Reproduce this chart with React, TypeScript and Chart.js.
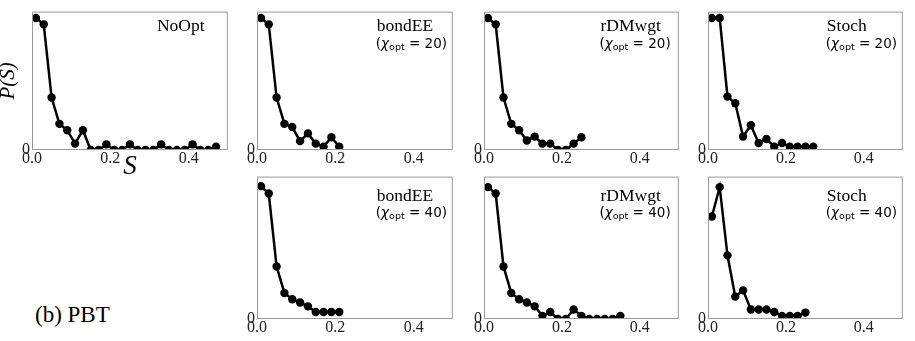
import React, { useEffect, useRef } from 'react';
import { Chart, registerables } from 'chart.js';

Chart.register(...registerables);

// ---- data ----
const S_BINS = [
  0.01, 0.03, 0.05, 0.07, 0.09, 0.11, 0.13, 0.15, 0.17, 0.19, 0.21, 0.23,
  0.25, 0.27, 0.29, 0.31, 0.33, 0.35, 0.37, 0.39, 0.41, 0.43, 0.45, 0.47,
];
const X_TICKS = [0, 0.2, 0.4];
const Y_TICKS = [0];

const NOOPT = [
  0.954, 0.908, 0.379, 0.189, 0.143, 0.046, 0.143, 0, 0, 0.041, 0, 0,
  0.041, 0, 0, 0, 0.041, 0, 0, 0, 0.041, 0, 0, 0.023,
];
const BONDEE_20 = [0.954, 0.908, 0.379, 0.189, 0.166, 0.064, 0.12, 0.046, 0.023, 0.092, 0.023];
const RDMWGT_20 = [0.954, 0.908, 0.379, 0.189, 0.143, 0.069, 0.097, 0.046, 0.046, 0, 0, 0.046, 0.092];
const STOCH_20 = [0.954, 0.954, 0.386, 0.338, 0.097, 0.179, 0.051, 0.08, 0.023, 0.051, 0.023, 0.023, 0.023, 0.023];
const BONDEE_40 = [0.933, 0.881, 0.369, 0.183, 0.139, 0.116, 0.089, 0.049, 0.049, 0.049, 0.049];
const RDMWGT_40 = [
  0.926, 0.881, 0.369, 0.183, 0.139, 0.116, 0.089, 0.022, 0.049, 0, 0, 0.067,
  0.022, 0, 0, 0, 0, 0.022,
];
const STOCH_40 = [0.72, 0.926, 0.447, 0.157, 0.201, 0.067, 0.067, 0.067, 0.049, 0.022, 0.022, 0.022, 0.045];

const SERIF = '"Liberation Serif", "Times New Roman", serif';
const SANS = '"DejaVu Sans", sans-serif';

const panelText = {
  id: 'panelText',
  afterDraw(chart: any, _args: any, opts: any) {
    const { ctx, chartArea: a } = chart;
    const w = a.right - a.left;
    ctx.save();
    ctx.strokeStyle = '#9a9a9a';
    ctx.lineWidth = 1;
    ctx.strokeRect(a.left + 0.5, a.top + 0.5, w - 1, a.bottom - a.top - 1);
    ctx.fillStyle = '#000';
    ctx.textBaseline = 'alphabetic';
    ctx.textAlign = 'left';
    const x = a.left + opts.xFrac * w;
    ctx.font = `17.5px ${SERIF}`;
    ctx.fillText(opts.title, x, a.top + opts.dy1);
    if (opts.chi) {
      let cx = x - 1;
      const by = a.top + opts.dy2;
      const put = (t: string, font: string, dy = 0) => {
        ctx.font = font;
        ctx.fillText(t, cx, by + dy);
        cx += ctx.measureText(t).width;
      };
      put('(', `13.5px ${SANS}`);
      put('χ', `italic 13.5px ${SANS}`);
      put('opt', `9.5px ${SANS}`, 2.5);
      put(' = ' + opts.chi + ')', `13.5px ${SANS}`);
    }
    ctx.restore();
  },
};

type PanelProps = {
  values: number[];
  title: string;
  chi?: string;
  plotLeft: number;
  plotTop: number;
  plotW: number;
  plotH: number;
  yW: number;
  xH: number;
  padTop: number;
  padRight: number;
  xFrac: number;
  dy1: number;
  dy2: number;
  axisTitles?: boolean;
};

function Panel(p: PanelProps) {
  const ref = useRef<HTMLCanvasElement | null>(null);
  const cx = p.plotLeft - p.yW;
  const cy = p.plotTop - p.padTop;
  const cw = p.yW + p.plotW + p.padRight;
  const ch = p.padTop + p.plotH + p.xH;

  useEffect(() => {
    if (!ref.current) return;
    const chart = new Chart(ref.current, {
      type: 'line',
      data: {
        datasets: [
          {
            data: p.values.map((v, i) => ({ x: S_BINS[i], y: v })),
            borderColor: '#000',
            backgroundColor: '#000',
            pointBackgroundColor: '#000',
            pointBorderWidth: 0,
            pointRadius: 4.2,
            borderWidth: 2.5,
            tension: 0,
            clip: 0,
          } as any,
        ],
      },
      options: {
        responsive: false,
        animation: false,
        events: [],
        layout: { padding: { top: p.padTop, right: p.padRight, left: 0, bottom: 0 } },
        plugins: {
          legend: { display: false },
          tooltip: { enabled: false },
          panelText: { title: p.title, chi: p.chi, xFrac: p.xFrac, dy1: p.dy1, dy2: p.dy2 },
        } as any,
        scales: {
          x: {
            type: 'linear',
            min: 0,
            max: 0.5,
            grid: { display: false, drawTicks: false },
            border: { display: false },
            afterBuildTicks: (s: any) => {
              s.ticks = X_TICKS.map((v) => ({ value: v }));
            },
            afterFit: (s: any) => {
              s.height = p.xH;
            },
            ticks: {
              padding: 0,
              maxRotation: 0,
              autoSkip: false,
              color: '#222',
              font: { family: SERIF, size: 16, lineHeight: 1.1 },
              callback: (v: any) => Number(v).toFixed(1),
            },
            title: p.axisTitles
              ? {
                  display: true,
                  text: 'S',
                  color: '#000',
                  font: { family: SERIF, size: 27, style: 'italic', lineHeight: 1 },
                  padding: { top: 0, bottom: 5 },
                }
              : { display: false },
          },
          y: {
            min: 0,
            max: 1,
            grid: { display: false, drawTicks: false },
            border: { display: false },
            afterBuildTicks: (s: any) => {
              s.ticks = Y_TICKS.map((v) => ({ value: v }));
            },
            afterFit: (s: any) => {
              s.width = p.yW;
            },
            ticks: {
              padding: 2,
              color: '#222',
              font: { family: SERIF, size: 16 },
              callback: (v: any) => String(v),
            },
            title: p.axisTitles
              ? {
                  display: true,
                  text: 'P(S)',
                  color: '#000',
                  font: { family: SERIF, size: 21, style: 'italic', lineHeight: 0.8 },
                  padding: { top: 0, bottom: 0 },
                }
              : { display: false },
          },
        } as any,
      },
      plugins: [panelText as any],
    });
    return () => chart.destroy();
  }, []);

  return (
    <canvas
      ref={ref}
      width={cw}
      height={ch}
      style={{ position: 'absolute', left: cx, top: cy, width: cw, height: ch }}
    />
  );
}

const ROW1 = { plotTop: 5, plotH: 145, padTop: 5, xH: 22, dy1: 19, dy2: 36 };
const ROW2 = { plotTop: 170, plotH: 149, padTop: 5, xH: 22, dy1: 24, dy2: 40 };

export default function App() {
  return (
    <div
      style={{
        position: 'absolute',
        left: 0,
        top: 0,
        width: 915,
        height: 341,
        background: '#fff',
        overflow: 'hidden',
      }}
    >
      <Panel
        values={NOOPT}
        title="NoOpt"
        plotLeft={32}
        plotW={196}
        yW={32}
        padRight={4}
        xFrac={0.638}
        {...ROW1}
        xH={35}
        axisTitles
      />
      <Panel values={BONDEE_20} title="bondEE" chi="20" plotLeft={257} plotW={196} yW={14} padRight={4} xFrac={0.612} {...ROW1} />
      <Panel values={RDMWGT_20} title="rDMwgt" chi="20" plotLeft={484} plotW={195} yW={14} padRight={4} xFrac={0.598} {...ROW1} />
      <Panel values={STOCH_20} title="Stoch" chi="20" plotLeft={708} plotW={195} yW={14} padRight={4} xFrac={0.61} {...ROW1} />
      <Panel values={BONDEE_40} title="bondEE" chi="40" plotLeft={257} plotW={196} yW={14} padRight={4} xFrac={0.612} {...ROW2} />
      <Panel values={RDMWGT_40} title="rDMwgt" chi="40" plotLeft={484} plotW={195} yW={14} padRight={4} xFrac={0.598} {...ROW2} />
      <Panel values={STOCH_40} title="Stoch" chi="40" plotLeft={708} plotW={195} yW={14} padRight={4} xFrac={0.61} {...ROW2} />
      <div
        style={{
          position: 'absolute',
          left: 35,
          top: 303,
          fontFamily: SERIF,
          fontSize: 23,
          lineHeight: '23px',
          color: '#000',
          whiteSpace: 'nowrap',
        }}
      >
        (b) PBT
      </div>
    </div>
  );
}
